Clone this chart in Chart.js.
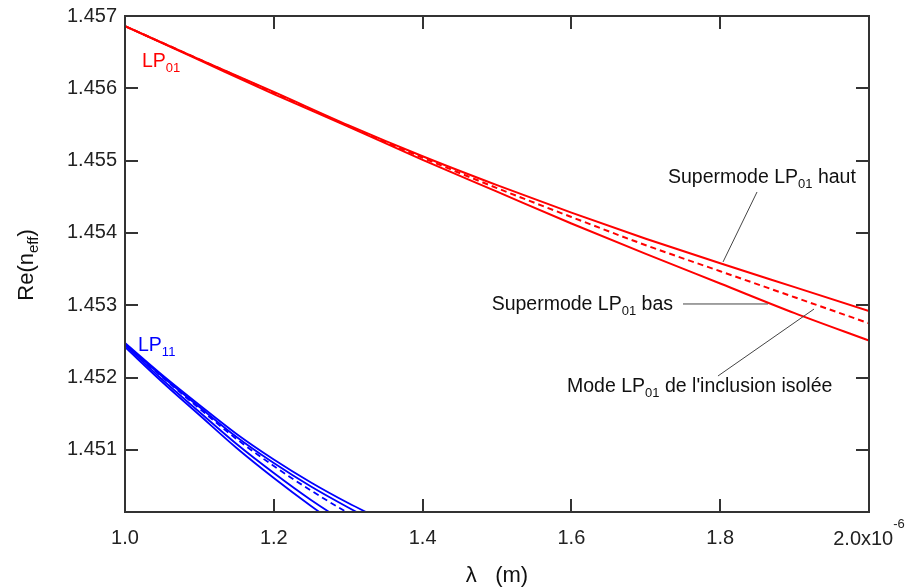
<!DOCTYPE html>
<html>
<head>
<meta charset="utf-8">
<script src="https://cdn.jsdelivr.net/npm/chart.js@4/dist/chart.umd.min.js"></script>
<style>
body { margin: 0; background: #fff; }
#chart { display: block; }
</style>
</head>
<body>
<canvas id="chart" width="906" height="588"></canvas>
<script>
// wavelength in µm (axis is labelled x10^-6 m)
const lambdaRed = [1.0, 1.1, 1.2, 1.3, 1.4, 1.5, 1.6, 1.7, 1.8, 1.9, 2.0];
const supermodeHaut = [1.45686, 1.45640, 1.45595, 1.45549, 1.45506, 1.45466, 1.45428, 1.45392, 1.45358, 1.45325, 1.45292];
const supermodeBas = [1.45686, 1.45639, 1.45592, 1.45547, 1.45501, 1.45457, 1.45413, 1.45371, 1.45330, 1.45289, 1.45251];
const modeIsole = [1.45686, 1.45640, 1.45594, 1.45548, 1.45504, 1.45462, 1.45422, 1.45383, 1.45347, 1.45311, 1.45275];

// LP11 family (goes below the axis minimum, clipped)
const lambdaBlue = [1.0, 1.05, 1.1, 1.15, 1.2, 1.25, 1.3, 1.35];
const lp11A = [1.452477, 1.452035, 1.451620, 1.451219, 1.450866, 1.450548, 1.450264, 1.450008];
const lp11B = [1.452463, 1.452014, 1.451592, 1.451177, 1.450817, 1.450492, 1.450202, 1.449932];
const lp11Isole = [1.452463, 1.452007, 1.451571, 1.451149, 1.450776, 1.450437, 1.450126, 1.449849];
const lp11C = [1.452449, 1.451972, 1.451523, 1.451080, 1.450679, 1.450306, 1.449974, 1.449669];
const lp11D = [1.452422, 1.451938, 1.451481, 1.451025, 1.450610, 1.450223, 1.449863, 1.449531];

const xTicks = [1.0, 1.2, 1.4, 1.6, 1.8, 2.0];
const xTickLabels = ["1.0", "1.2", "1.4", "1.6", "1.8", "2.0x10"];
const yTicks = [1.451, 1.452, 1.453, 1.454, 1.455, 1.456, 1.457];
const yTickLabels = ["1.451", "1.452", "1.453", "1.454", "1.455", "1.456", "1.457"];

const FONT = "'Liberation Sans', Arial, sans-serif";
const RED = "rgb(255,0,0)";
const BLUE = "rgb(0,0,255)";
const AXIS = "#333";
const TICK_SIZE = 20;

// text labels with leader lines, in data coordinates
const labels = [
    { parts: [{t: "LP"}, {t: "01", sub: true}], x: 1.0228, y: 1.45630, color: RED, align: "left" },
    { parts: [{t: "LP"}, {t: "11", sub: true}], x: 1.0175, y: 1.45237, color: BLUE, align: "left" },
    { parts: [{t: "Supermode LP"}, {t: "01", sub: true}, {t: " haut"}], x: 1.7298, y: 1.45469, color: "#111", align: "left" },
    { parts: [{t: "Supermode LP"}, {t: "01", sub: true}, {t: " bas"}], x: 1.7366, y: 1.45293, color: "#111", align: "right" },
    { parts: [{t: "Mode LP"}, {t: "01", sub: true}, {t: " de l'inclusion isolée"}], x: 1.5941, y: 1.45180, color: "#111", align: "left" }
];
const leaders = [
    [1.8495, 1.454566, 1.8038, 1.453598],
    [1.7500, 1.453017, 1.8642, 1.453017],
    [1.7970, 1.452021, 1.9261, 1.452947]
];

function pts(xs, ys) {
    return xs.map((x, i) => ({x: x, y: ys[i]}));
}

function lineSet(xs, ys, color, dashed, width) {
    return {
        data: pts(xs, ys),
        borderColor: color,
        borderWidth: width,
        borderDash: dashed ? [6, 4] : [],
        pointRadius: 0,
        cubicInterpolationMode: "monotone",
        fill: false
    };
}

function drawRich(ctx, parts, x, y, align, size) {
    const subSize = Math.round(size * 0.68);
    let width = 0;
    parts.forEach(p => {
        ctx.font = (p.sub ? subSize : size) + "px " + FONT;
        p.w = ctx.measureText(p.t).width;
        width += p.w;
    });
    let cx = x;
    if (align === "right") cx = x - width;
    if (align === "center") cx = x - width / 2;
    ctx.textAlign = "left";
    ctx.textBaseline = "alphabetic";
    parts.forEach(p => {
        ctx.font = (p.sub ? subSize : size) + "px " + FONT;
        ctx.fillText(p.t, cx, p.sub ? y + 5 : y);
        cx += p.w;
    });
}

// frame, inward ticks, annotations and axis titles
const decorations = {
    id: "decorations",
    afterDraw(chart) {
        const ctx = chart.ctx;
        const area = chart.chartArea;
        const xs = chart.scales.x;
        const ys = chart.scales.y;
        const tick = 13;

        ctx.save();
        ctx.strokeStyle = AXIS;
        ctx.lineWidth = 2;
        ctx.strokeRect(area.left, area.top, area.right - area.left, area.bottom - area.top);

        ctx.beginPath();
        xTicks.forEach(v => {
            const px = Math.round(xs.getPixelForValue(v));
            ctx.moveTo(px, area.bottom); ctx.lineTo(px, area.bottom - tick);
            ctx.moveTo(px, area.top); ctx.lineTo(px, area.top + tick);
        });
        yTicks.forEach(v => {
            const py = Math.round(ys.getPixelForValue(v));
            ctx.moveTo(area.left, py); ctx.lineTo(area.left + tick, py);
            ctx.moveTo(area.right, py); ctx.lineTo(area.right - tick, py);
        });
        ctx.stroke();

        // last x tick label with its exponent, centred as a whole on the tick
        const last = xTickLabels[xTickLabels.length - 1];
        ctx.font = TICK_SIZE + "px " + FONT;
        const w1 = ctx.measureText(last).width;
        ctx.font = "13px " + FONT;
        const w2 = ctx.measureText("-6").width;
        const x0 = xs.getPixelForValue(xTicks[xTicks.length - 1]) - (w1 + w2) / 2;
        ctx.fillStyle = "#222";
        ctx.textAlign = "left";
        ctx.textBaseline = "alphabetic";
        ctx.font = TICK_SIZE + "px " + FONT;
        ctx.fillText(last, x0, 545);
        ctx.font = "13px " + FONT;
        ctx.fillText("-6", x0 + w1, 528);

        // leader lines
        ctx.strokeStyle = "#444";
        ctx.lineWidth = 1;
        ctx.beginPath();
        leaders.forEach(l => {
            ctx.moveTo(xs.getPixelForValue(l[0]), ys.getPixelForValue(l[1]));
            ctx.lineTo(xs.getPixelForValue(l[2]), ys.getPixelForValue(l[3]));
        });
        ctx.stroke();

        labels.forEach(l => {
            ctx.fillStyle = l.color;
            drawRich(ctx, l.parts, xs.getPixelForValue(l.x), ys.getPixelForValue(l.y), l.align, 19.5);
        });

        // axis titles
        ctx.fillStyle = "#111";
        ctx.font = "22px " + FONT;
        ctx.textAlign = "center";
        ctx.textBaseline = "middle";
        ctx.fillText("λ   (m)", (area.left + area.right) / 2, 576);

        ctx.translate(33, (area.top + area.bottom) / 2 + 1);
        ctx.rotate(-Math.PI / 2);
        drawRich(ctx, [{t: "Re(n"}, {t: "eff", sub: true}, {t: ")"}], 0, 0, "center", 22);
        ctx.restore();
    }
};

new Chart(document.getElementById("chart"), {
    type: "line",
    data: {
        datasets: [
            lineSet(lambdaRed, supermodeHaut, RED, false, 2),
            lineSet(lambdaRed, supermodeBas, RED, false, 2),
            lineSet(lambdaRed, modeIsole, RED, true, 2),
            lineSet(lambdaBlue, lp11A, BLUE, false, 1.8),
            lineSet(lambdaBlue, lp11B, BLUE, false, 1.8),
            lineSet(lambdaBlue, lp11Isole, BLUE, true, 1.8),
            lineSet(lambdaBlue, lp11C, BLUE, false, 1.8),
            lineSet(lambdaBlue, lp11D, BLUE, false, 1.8)
        ]
    },
    options: {
        responsive: false,
        animation: false,
        devicePixelRatio: 1,
        layout: { padding: { top: 16, right: 37, left: 0, bottom: 0 } },
        plugins: { legend: { display: false }, tooltip: { enabled: false } },
        scales: {
            x: {
                type: "linear",
                min: 1.0,
                max: 2.0,
                grid: { display: false, drawTicks: false },
                border: { display: false },
                afterFit: scale => {
                    scale.height = 76;
                    scale.paddingLeft = 0;
                    scale.paddingRight = 0;
                },
                afterBuildTicks: scale => { scale.ticks = xTicks.map(v => ({value: v})); },
                ticks: {
                    padding: 14,
                    maxRotation: 0,
                    color: "#222",
                    font: { family: FONT, size: TICK_SIZE },
                    // the last label is drawn by the plugin (it has an exponent)
                    callback: (v, i) => i === xTicks.length - 1 ? "" : xTickLabels[i]
                }
            },
            y: {
                min: 1.45014,
                max: 1.457,
                grid: { display: false, drawTicks: false },
                border: { display: false },
                afterFit: scale => {
                    scale.width = 125;
                    scale.paddingTop = 0;
                    scale.paddingBottom = 0;
                },
                afterBuildTicks: scale => { scale.ticks = yTicks.map(v => ({value: v})); },
                ticks: {
                    padding: 8,
                    color: "#222",
                    font: { family: FONT, size: TICK_SIZE },
                    callback: (v, i) => yTickLabels[i]
                }
            }
        }
    },
    plugins: [decorations]
});
</script>
</body>
</html>
